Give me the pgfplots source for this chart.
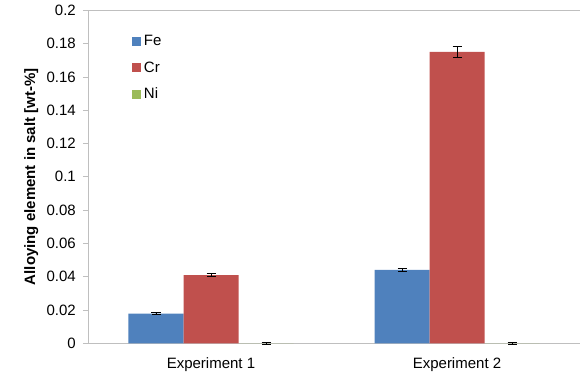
\documentclass[border=0pt]{standalone}
\usepackage{pgfplots}
\pgfplotsset{compat=1.18}
\usepackage{pgfplotstable}
\usepackage{fontspec}
\setmainfont{Liberation Sans}
\definecolor{feblue}{HTML}{4F81BD}
\definecolor{crred}{HTML}{C0504D}
\definecolor{nigreen}{HTML}{9BBB59}
\definecolor{axgray}{HTML}{BFBFBF}
\pgfplotstableread{
x fe feerr cr crerr ni nierr
0 0.0178 0.0006 0.0410 0.0009 0.0000 0.0005
1 0.0441 0.0007 0.1750 0.0035 0.0000 0.0005
}\datatable
\begin{document}
\fontsize{15bp}{18bp}\selectfont
\begin{tikzpicture}
\begin{axis}[
  name=ax,
  scale only axis,
  width=492bp, height=333bp,
  xmin=-0.5, xmax=1.5,
  ymin=0, ymax=0.2,
  ybar=0pt,
  bar width=55bp,
  axis x line*=bottom,
  axis y line*=left,
  axis line style={axgray, line width=0.8pt},
  tick align=outside,
  xtick={0,1},
  xticklabels={Experiment 1, Experiment 2},
  xtick style={draw=none},
  minor xtick={-0.5,0.5,1.5},
  minor tick length=4bp,
  minor x tick style={axgray, line width=0.8pt},
  ytick={0,0.02,0.04,0.06,0.08,0.1,0.12,0.14,0.16,0.18,0.2},
  yticklabels={0,0.02,0.04,0.06,0.08,0.1,0.12,0.14,0.16,0.18,0.2},
  major tick length=5bp,
  ytick style={axgray, line width=0.8pt},
  /pgf/number format/assume math mode=true,
  tick label style={font=\fontsize{15bp}{18bp}\selectfont, black},
  xticklabel style={yshift=-4bp},
  yticklabel style={xshift=-2bp},
  ylabel={\bfseries Alloying element in salt [wt-\%]},
  ylabel style={font=\fontsize{15bp}{18bp}\selectfont\bfseries},
  ylabel shift=-2bp,
  legend style={draw=none, fill=none, at={(0.089,0.931)}, anchor=north west,
    font=\fontsize{15bp}{18bp}\selectfont, row sep=9.5bp, inner sep=0pt,
    nodes={inner xsep=3bp}},
  legend cell align=left,
  legend image code/.code={\fill[#1] (0bp,-4.5bp) rectangle (9bp,4.5bp);},
  clip=false,
  error bars/y dir=both,
  error bars/y explicit,
  error bars/error mark options={rotate=90, mark size=4.5bp, line width=1pt, black},
  error bars/error bar style={line width=1pt, black},
]
\addplot[fill=feblue, draw=none] table[x=x, y=fe, y error=feerr] {\datatable};
\addplot[fill=crred, draw=none] table[x=x, y=cr, y error=crerr] {\datatable};
\addplot[fill=nigreen, draw=none] table[x=x, y=ni, y error=nierr] {\datatable};
\legend{Fe, Cr, Ni}
\draw[axgray, line width=0.8pt] (rel axis cs:0,1) -- (rel axis cs:1,1);
\end{axis}
\path ([shift={(-88bp,-29bp)}]ax.south west) rectangle ([shift={(2bp,10bp)}]ax.north east);
\end{tikzpicture}
\end{document}
